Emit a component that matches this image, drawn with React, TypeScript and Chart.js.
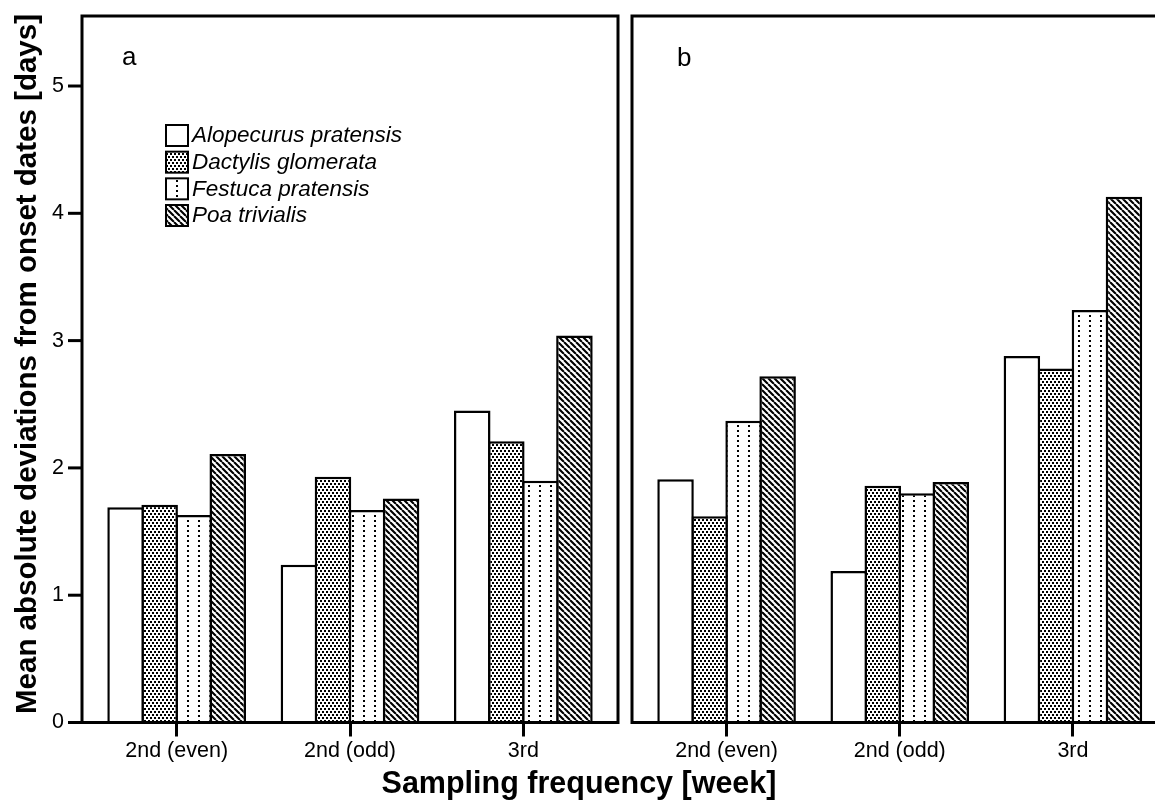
import React, { useEffect, useRef } from 'react';
import { Chart, registerables } from 'chart.js';

Chart.register(...registerables);

const categories = ['2nd (even)', '2nd (odd)', '3rd'];
const speciesNames = ['Alopecurus pratensis', 'Dactylis glomerata', 'Festuca pratensis', 'Poa trivialis'];

// panel a
const aAlopecurus = [1.69, 1.24, 2.45];
const aDactylis = [1.71, 1.93, 2.21];
const aFestuca = [1.63, 1.67, 1.9];
const aPoa = [2.11, 1.76, 3.04];

// panel b
const bAlopecurus = [1.91, 1.19, 2.88];
const bDactylis = [1.62, 1.86, 2.78];
const bFestuca = [2.37, 1.8, 3.24];
const bPoa = [2.72, 1.89, 4.13];

const yTicks = [0, 1, 2, 3, 4, 5];
const yMax = 5.55;
const panelLabels = ['a', 'b'];
const yTitle = 'Mean absolute deviations from onset dates [days]';
const xTitle = 'Sampling frequency [week]';

const FONT = "'Liberation Sans', Arial, Helvetica, sans-serif";
const BW = 2.5;
const FRAME_PAD = 8;

type Pat = CanvasPattern | string;

function tile(w: number, h: number, draw: (g: CanvasRenderingContext2D) => void): Pat {
  const c = document.createElement('canvas');
  c.width = w;
  c.height = h;
  const g = c.getContext('2d')!;
  g.fillStyle = '#fff';
  g.fillRect(0, 0, w, h);
  g.fillStyle = '#000';
  g.strokeStyle = '#000';
  draw(g);
  return g.createPattern(c, 'repeat') || '#fff';
}

function makeFills(): Pat[] {
  const plain = '#ffffff';
  const dense = tile(4, 6, (g) => {
    g.fillRect(0, 0, 2, 2);
    g.fillRect(2, 3, 2, 2);
  });
  const sparse = tile(11, 5, (g) => {
    g.fillRect(0, 0, 2, 2);
  });
  const hatch = tile(6, 6, (g) => {
    g.lineWidth = 2.1;
    g.beginPath();
    for (const k of [-6, 0, 6]) {
      g.moveTo(k, 0);
      g.lineTo(k + 6, 6);
    }
    g.stroke();
  });
  return [plain, dense, sparse, hatch];
}

function datasets(series: number[][], fills: Pat[]) {
  return series.map((data, i) => ({
    label: speciesNames[i],
    data,
    backgroundColor: fills[i] as any,
    borderColor: '#000',
    borderWidth: BW,
    borderSkipped: 'start' as const,
    categoryPercentage: 0.786,
    barPercentage: 1.073,
  }));
}

function xScale(height: number) {
  return {
    offset: true,
    grid: {
      display: true,
      drawOnChartArea: false,
      drawTicks: true,
      tickLength: 14,
      tickWidth: 3,
      tickColor: '#000',
      offset: false,
    },
    border: { display: false },
    ticks: {
      font: { family: FONT, size: 21.5 },
      color: '#000',
      padding: 2,
      maxRotation: 0,
      autoSkip: false,
    },
    afterFit: (s: any) => {
      s.height = height;
      s.paddingLeft = 0;
      s.paddingRight = 0;
    },
  };
}

function drawFrame(ctx: CanvasRenderingContext2D, area: any) {
  ctx.save();
  ctx.strokeStyle = '#000';
  ctx.lineWidth = 3;
  ctx.strokeRect(area.left - FRAME_PAD, area.top, area.right - area.left + 2 * FRAME_PAD, area.bottom - area.top);
  ctx.restore();
}

function panelLetter(ctx: CanvasRenderingContext2D, text: string, x: number, y: number) {
  ctx.save();
  ctx.fillStyle = '#000';
  ctx.font = `26px ${FONT}`;
  ctx.textAlign = 'left';
  ctx.textBaseline = 'alphabetic';
  ctx.fillText(text, x, y);
  ctx.restore();
}

const panelAPlugin = {
  id: 'panelADecor',
  afterDraw(chart: any) {
    const ctx: CanvasRenderingContext2D = chart.ctx;
    const area = chart.chartArea;
    const y = chart.scales.y;
    drawFrame(ctx, area);
    const fl = area.left - FRAME_PAD;

    // outward y tick marks on the frame
    ctx.save();
    ctx.strokeStyle = '#000';
    ctx.lineWidth = 3;
    for (const v of yTicks) {
      const py = y.getPixelForValue(v);
      ctx.beginPath();
      ctx.moveTo(fl - 14, py);
      ctx.lineTo(fl, py);
      ctx.stroke();
    }
    ctx.restore();

    panelLetter(ctx, panelLabels[0], area.left + 32, 65);

    // legend
    const ds = chart.data.datasets;
    ctx.save();
    ctx.font = `italic 22.5px ${FONT}`;
    ctx.textBaseline = 'middle';
    ctx.textAlign = 'left';
    ds.forEach((d: any, i: number) => {
      const bx = area.left + 76;
      const by = 125 + i * 26.67;
      ctx.fillStyle = d.backgroundColor;
      ctx.fillRect(bx, by, 22, 21);
      ctx.strokeStyle = '#000';
      ctx.lineWidth = 2;
      ctx.strokeRect(bx, by, 22, 21);
      ctx.fillStyle = '#000';
      ctx.fillText(d.label, bx + 26, by + 11);
    });
    ctx.restore();

    // axis titles
    ctx.save();
    ctx.fillStyle = '#000';
    ctx.font = `bold 29.5px ${FONT}`;
    ctx.textAlign = 'center';
    ctx.textBaseline = 'alphabetic';
    ctx.translate(36, 364);
    ctx.rotate(-Math.PI / 2);
    ctx.fillText(yTitle, 0, 0);
    ctx.restore();

    ctx.save();
    ctx.fillStyle = '#000';
    ctx.font = `bold 30.5px ${FONT}`;
    ctx.textAlign = 'center';
    ctx.textBaseline = 'alphabetic';
    ctx.fillText(xTitle, 579, 793);
    ctx.restore();
  },
};

const panelBPlugin = {
  id: 'panelBDecor',
  afterDraw(chart: any) {
    const ctx: CanvasRenderingContext2D = chart.ctx;
    const area = chart.chartArea;
    drawFrame(ctx, area);
    panelLetter(ctx, panelLabels[1], area.left + 37, 66);
  },
};

export default function App() {
  const refA = useRef<HTMLCanvasElement>(null);
  const refB = useRef<HTMLCanvasElement>(null);

  useEffect(() => {
    const fills = makeFills();

    const chartA = new Chart(refA.current!, {
      type: 'bar',
      data: {
        labels: categories,
        datasets: datasets([aAlopecurus, aDactylis, aFestuca, aPoa], fills),
      },
      options: {
        responsive: false,
        animation: false,
        devicePixelRatio: 1,
        layout: { padding: { left: 0, top: 16, right: 545, bottom: 0 } },
        plugins: { legend: { display: false }, tooltip: { enabled: false } },
        scales: {
          x: xScale(77.5) as any,
          y: {
            min: 0,
            max: yMax,
            afterBuildTicks: (s: any) => {
              s.ticks = yTicks.map((v) => ({ value: v }));
            },
            grid: { display: false, drawTicks: false },
            border: { display: false },
            ticks: { font: { family: FONT, size: 21.5 }, color: '#000', padding: 26 },
            afterFit: (s: any) => {
              s.width = 90;
              s.paddingTop = 0;
              s.paddingBottom = 0;
            },
          },
        },
      },
      plugins: [panelAPlugin],
    });

    const chartB = new Chart(refB.current!, {
      type: 'bar',
      data: {
        labels: categories,
        datasets: datasets([bAlopecurus, bDactylis, bFestuca, bPoa], fills),
      },
      options: {
        responsive: false,
        animation: false,
        devicePixelRatio: 1,
        layout: { padding: { left: 640, top: 16, right: 70.5, bottom: 0 } },
        plugins: { legend: { display: false }, tooltip: { enabled: false } },
        scales: {
          x: xScale(77.5) as any,
          y: { display: false, min: 0, max: yMax },
        },
      },
      plugins: [panelBPlugin],
    });

    return () => {
      chartA.destroy();
      chartB.destroy();
    };
  }, []);

  return (
    <div
      style={{
        position: 'absolute',
        left: 0,
        top: 0,
        width: 1155,
        height: 800,
        overflow: 'hidden',
        background: '#fff',
      }}
    >
      <canvas
        ref={refA}
        width={1155}
        height={800}
        style={{ position: 'absolute', left: 0, top: 0, width: 1155, height: 800 }}
      />
      <canvas
        ref={refB}
        width={1230}
        height={800}
        style={{ position: 'absolute', left: 0, top: 0, width: 1230, height: 800 }}
      />
    </div>
  );
}
